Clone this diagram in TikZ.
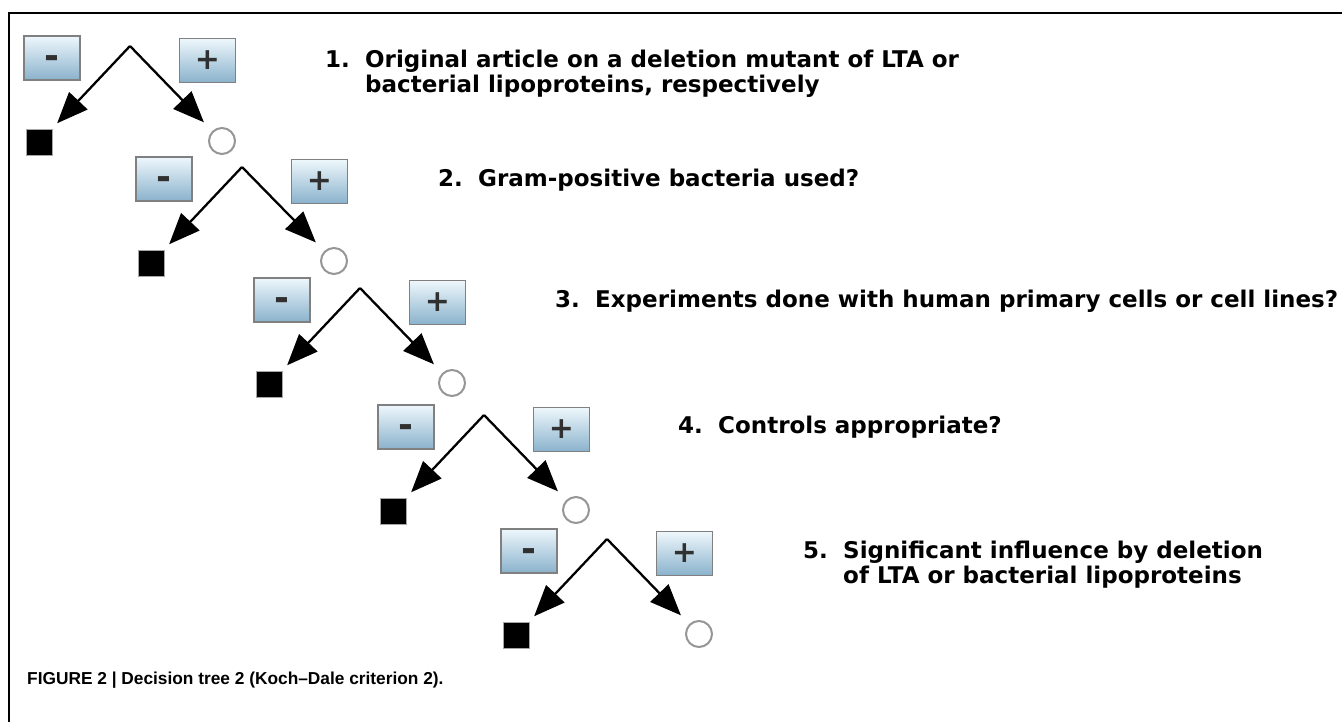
\documentclass[tikz,border=0pt]{standalone}
\usepackage{fontspec}
\setmainfont{DejaVu Sans}
\newfontfamily\capfont{Liberation Sans}
\usetikzlibrary{arrows.meta}
\definecolor{boxtop}{RGB}{238,247,252}
\definecolor{boxbot}{RGB}{138,178,204}
\definecolor{signgray}{RGB}{48,48,48}
\definecolor{ringgray}{RGB}{150,150,150}
\def\qnum#1{\makebox[40pt][l]{#1}}
\tikzset{
  signbox/.style={draw=gray, line width=1.2pt, minimum width=56pt, minimum height=44pt,
    inner sep=0pt, top color=boxtop, bottom color=boxbot, text=signgray},
  minussign/.style={signbox, text height=0pt, text depth=0pt,
    font=\bfseries\fontsize{36}{36}\selectfont},
  plussign/.style={signbox, font=\bfseries\fontsize{30}{30}\selectfont},
  nobox/.style={fill=black, draw=gray!70, line width=0.8pt, minimum size=26pt, inner sep=0pt},
  yesring/.style={circle, draw=ringgray, line width=2pt, fill=white, minimum size=26pt, inner sep=0pt},
  branch/.style={line width=2.3pt, -{Triangle[length=31pt,width=25pt]}},
  question/.style={anchor=base west, align=left, inner sep=0pt,
    font=\bfseries\fontsize{23}{25}\selectfont},
}

\begin{document}
\begin{tikzpicture}[x=1pt,y=-1pt]
	%%%%% START %%%%%
	\useasboundingbox (0,0) rectangle (1342,722);
	
	\draw[line width=1.3pt] (9,722) -- (9,13) -- (1342,13);
	
	% level 1
	\coordinate (top1) at (130,46);
	\node[minussign] (minus1) at (52,58) {\raisebox{-0.3em}{-}};
	\node[plussign] (plus1) at (207.5,60.5) {+};
	\node[nobox] (no1) at (39,142.5) {};
	\node[yesring] (yes1) at (222,141) {};
	\draw[branch, shorten >=8pt] (top1) -- (no1);
	\draw[branch, shorten >=12pt] (top1) -- (yes1);
	\node[question] (q1) at (325,93) {\qnum{1.}Original article on a deletion mutant of LTA or\\\hspace*{40pt}bacterial lipoproteins, respectively};
	
	% level 2
	\coordinate (top2) at (242,167);
	\node[minussign] (minus2) at (164,179) {\raisebox{-0.3em}{-}};
	\node[plussign] (plus2) at (319.5,181.5) {+};
	\node[nobox] (no2) at (151,263.5) {};
	\node[yesring] (yes2) at (334,261) {};
	\draw[branch, shorten >=8pt] (top2) -- (no2);
	\draw[branch, shorten >=12pt] (top2) -- (yes2);
	\node[question] (q2) at (438,187) {\qnum{2.}Gram-positive bacteria used?};
	
	% level 3
	\coordinate (top3) at (360,288);
	\node[minussign] (minus3) at (282,300) {\raisebox{-0.3em}{-}};
	\node[plussign] (plus3) at (437.5,302.5) {+};
	\node[nobox] (no3) at (269,384.5) {};
	\node[yesring] (yes3) at (452,383) {};
	\draw[branch, shorten >=8pt] (top3) -- (no3);
	\draw[branch, shorten >=12pt] (top3) -- (yes3);
	\node[question] (q3) at (555,307) {\qnum{3.}Experiments done with human primary cells or cell lines?};
	
	% level 4
	\coordinate (top4) at (484,415);
	\node[minussign] (minus4) at (406,427) {\raisebox{-0.3em}{-}};
	\node[plussign] (plus4) at (561.5,429.5) {+};
	\node[nobox] (no4) at (393,511.5) {};
	\node[yesring] (yes4) at (576,510) {};
	\draw[branch, shorten >=8pt] (top4) -- (no4);
	\draw[branch, shorten >=12pt] (top4) -- (yes4);
	\node[question] (q4) at (678,433) {\qnum{4.}Controls appropriate?};
	
	% level 5
	\coordinate (top5) at (607,539);
	\node[minussign] (minus5) at (529,551) {\raisebox{-0.3em}{-}};
	\node[plussign] (plus5) at (684.5,553.5) {+};
	\node[nobox] (no5) at (516,635.5) {};
	\node[yesring] (yes5) at (699,634) {};
	\draw[branch, shorten >=8pt] (top5) -- (no5);
	\draw[branch, shorten >=12pt] (top5) -- (yes5);
	\node[question] (q5) at (803,583) {\qnum{5.}Significant influence by deletion\\\hspace*{40pt}of LTA or bacterial lipoproteins};
	
	\node[anchor=base west, inner sep=0pt, font=\capfont\bfseries\fontsize{17.3}{19}\selectfont] (caption) at (27,684) {FIGURE 2 | Decision tree 2 (Koch–Dale criterion 2).};
	%%%%% END %%%%%
\end{tikzpicture}
\end{document}
